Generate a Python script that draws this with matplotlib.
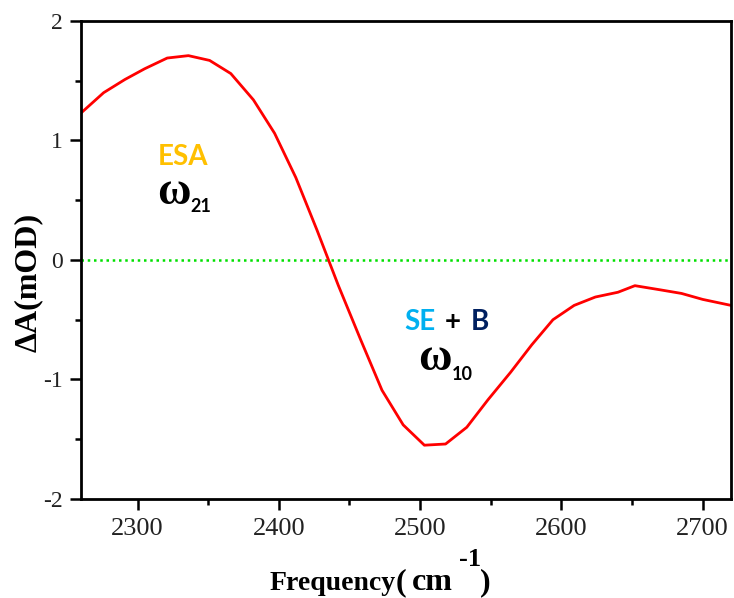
import matplotlib
matplotlib.use("Agg")
import matplotlib.pyplot as plt
from matplotlib.ticker import MultipleLocator

# data
freq = [2260, 2276, 2291, 2305, 2321, 2336, 2351, 2366, 2382, 2397, 2412, 2427,
        2442, 2458, 2473, 2488, 2503, 2518, 2533, 2548, 2564, 2579, 2594, 2609,
        2624, 2640, 2652, 2670, 2685, 2700, 2720]
dA = [1.23, 1.40, 1.51, 1.60, 1.69, 1.71, 1.67, 1.56, 1.34, 1.06, 0.69, 0.25,
      -0.21, -0.67, -1.09, -1.38, -1.55, -1.54, -1.40, -1.17, -0.94, -0.71, -0.50, -0.38,
      -0.31, -0.27, -0.215, -0.25, -0.28, -0.33, -0.38]
xlim = (2260, 2720)
ylim = (-2, 2)
xticks = [2300, 2400, 2500, 2600, 2700]
yticks = [-2, -1, 0, 1, 2]

plt.rcParams["axes.unicode_minus"] = False

W, H = 734, 598
fig = plt.figure(figsize=(W / 100, H / 100), dpi=100)
ax = fig.add_axes([0.1104, 0.1656, 0.8855, 0.7993])

ax.axhline(0, color="#00e000", ls=(0, (1, 1.5)), lw=1.8, zorder=1)
ax.plot(freq, dA, color="#ff0000", lw=2, zorder=2)

ax.set_xlim(*xlim)
ax.set_ylim(*ylim)
ax.set_xticks(xticks)
ax.set_yticks(yticks)
ax.xaxis.set_minor_locator(MultipleLocator(50))
ax.yaxis.set_minor_locator(MultipleLocator(0.5))

for s in ax.spines.values():
    s.set_linewidth(2)
ax.tick_params(which="major", direction="out", length=8, width=1.8, top=False, right=False)
ax.tick_params(which="minor", direction="out", length=4, width=1.8, top=False, right=False)
ax.tick_params(axis="x", which="major", pad=6)
ax.tick_params(axis="y", which="major", pad=5)
for lab in ax.get_xticklabels():
    lab.set_fontfamily("Liberation Serif")
    lab.set_fontsize(19)
    lab.set_color("#222222")
for lab in ax.get_yticklabels():
    lab.set_fontfamily("Liberation Serif")
    lab.set_fontsize(17)
    lab.set_color("#222222")

# axis labels
serif_b = dict(fontfamily="Liberation Serif", fontweight="bold", color="black")
fig.text(0.038, 0.527, "ΔA(mOD)", rotation=90, ha="center", va="center",
         fontsize=23, **serif_b)

def px(x, y):
    return x / W, 1 - y / H

fig.text(*px(270, 590), "Frequency", ha="left", va="baseline", fontsize=20, **serif_b)
fig.text(*px(396, 590), "(", ha="left", va="baseline", fontsize=23, **serif_b)
fig.text(*px(412, 590), "cm", ha="left", va="baseline", fontsize=23, **serif_b)
fig.text(*px(459, 566), "-1", ha="left", va="baseline", fontsize=19, **serif_b)
fig.text(*px(480, 590), ")", ha="left", va="baseline", fontsize=23, **serif_b)

# annotations
sans_b = dict(fontfamily="Lato", fontweight="bold")
ax.text(0.157, 0.715, "ESA", transform=ax.transAxes, ha="center", va="center",
        fontsize=20, color="#ffc000", **sans_b)
ax.text(0.143, 0.640, "ω", transform=ax.transAxes, ha="center", va="center",
        fontsize=33, **serif_b)
ax.text(0.168, 0.600, "21", transform=ax.transAxes, ha="left", va="baseline",
        fontsize=13, color="black", **sans_b)

ax.text(0.522, 0.370, "SE", transform=ax.transAxes, ha="center", va="center",
        fontsize=20, color="#00b0f0", **sans_b)
ax.text(0.572, 0.370, "+", transform=ax.transAxes, ha="center", va="center",
        fontsize=20, color="black", **sans_b)
ax.text(0.614, 0.370, "B", transform=ax.transAxes, ha="center", va="center",
        fontsize=20, color="#002060", **sans_b)
ax.text(0.545, 0.293, "ω", transform=ax.transAxes, ha="center", va="center",
        fontsize=33, **serif_b)
ax.text(0.571, 0.249, "10", transform=ax.transAxes, ha="left", va="baseline",
        fontsize=13, color="black", **sans_b)

fig.savefig("out.png", dpi=100)
